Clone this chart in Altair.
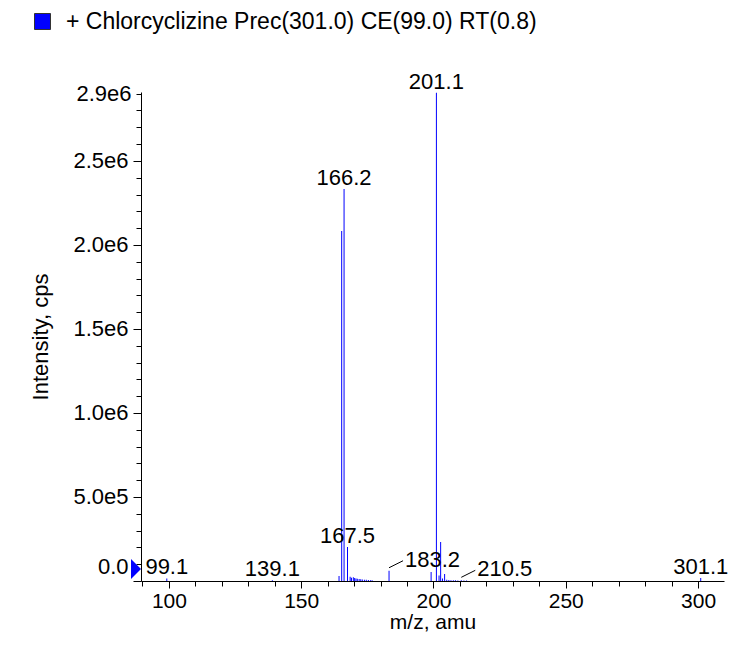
import altair as alt
import pandas as pd

# ---- data ----
series_name = "+ Chlorcyclizine Prec(301.0) CE(99.0) RT(0.8)"

peak_mz = [99.2, 139.1, 164.3, 165.3, 166.2, 167.5,
           168.5, 169.0, 169.7, 170.2, 170.7, 171.2, 171.9, 172.5, 173.1, 173.9, 174.6, 175.4, 176.2, 176.8,
           183.2, 199.1, 201.1, 202.1, 202.7, 203.4, 204.2,
           205.0, 205.8, 206.6, 207.5, 208.3, 209.2, 210.5, 211.5, 212.5, 301.0]
peak_intensity = [15000, 5000, 30000, 2083000, 2333000, 202000,
                  25000, 20000, 22000, 18000, 15000, 14000, 12000, 10000, 9000, 8000, 7000, 6000, 5000, 5000,
                  61000, 54000, 2905000, 32000, 232000, 15000, 42000,
                  8000, 6000, 5000, 4000, 4000, 3000, 4000, 3000, 3000, 18000]

top_label_text = ["99.1", "139.1", "166.2", "167.5", "201.1", "301.1"]
top_label_mz = [99.2, 139.1, 166.2, 167.5, 201.1, 301.0]

leader_label_text = ["183.2", "210.5"]
leader_label_mz = [183.2, 210.5]

x_tick_values = list(range(90, 311, 10))
y_tick_values = [i * 100000 for i in range(0, 30)]

X_DOMAIN = [89.45, 309.8]
Y_DOMAIN = [0, 2910000]

FONT = "Liberation Sans"
BLUE = "#0000ff"
FS = 22
FSX = 21

# ---- tables ----
lookup = dict(zip(peak_mz, peak_intensity))
peaks = pd.DataFrame({"mz": peak_mz, "intensity": peak_intensity, "series": series_name})
top_labels = pd.DataFrame({"mz": top_label_mz,
                           "intensity": [lookup[m] for m in top_label_mz],
                           "label": top_label_text})
leader_labels = pd.DataFrame({"mz": leader_label_mz,
                              "intensity": [lookup[m] for m in leader_label_mz],
                              "label": leader_label_text})
marker = pd.DataFrame({"mz": [X_DOMAIN[0]], "intensity": [0]})

x_scale = alt.Scale(domain=X_DOMAIN, nice=False, zero=False, padding=0)
y_scale = alt.Scale(domain=Y_DOMAIN, nice=False, padding=0)

x_axis = alt.Axis(
    title="m/z, amu",
    values=x_tick_values,
    labelExpr="datum.value % 50 == 0 ? datum.label : ''",
    tickSize={"condition": {"test": "datum.value % 50 == 0", "value": 7}, "value": 5},
    labelPadding=2,
    titlePadding=0,
    labelFontSize=FSX,
    titleFontSize=FSX,
    labelOverlap=False,
    labelFlush=False,
    grid=False,
)
y_axis = alt.Axis(
    title="Intensity, cps",
    values=y_tick_values,
    labelExpr="datum.value == 0 ? '0.0' : ((datum.value % 500000 == 0 || datum.value == 2900000) ? replace(format(datum.value, '.1e'), '+', '') : '')",
    tickSize={"condition": {"test": "datum.value % 500000 == 0", "value": 8}, "value": 5},
    labelOffset={"condition": {"test": "datum.value == 0", "value": -15}, "value": 0},
    labelPadding=5,
    titlePadding=20,
    labelOverlap=False,
    labelFlush=False,
    grid=False,
)

X = alt.X("mz:Q", scale=x_scale, axis=x_axis)
Y = alt.Y("intensity:Q", scale=y_scale, axis=y_axis, stack=None)

bars = alt.Chart(peaks).mark_bar(width=1, orient="vertical").encode(
    x=X,
    y=Y,
    color=alt.Color(
        "series:N",
        scale=alt.Scale(domain=[series_name], range=[BLUE]),
        legend=alt.Legend(
            title=None,
            orient="none",
            legendX=-110,
            legendY=-82,
            symbolType="square",
            symbolSize=256,
            symbolStrokeColor="#333333",
            symbolStrokeWidth=1,
            symbolFillColor=BLUE,
            labelFontSize=23,
            labelFont=FONT,
            labelColor="black",
            labelOffset=12,
            labelLimit=1000,
            padding=0,
        ),
    ),
)

tri = alt.Chart(marker).mark_point(
    shape="M -0.5 -1 L 0.5 0 L -0.5 1 Z", filled=True, color=BLUE, opacity=1,
    size=400, xOffset=-5, yOffset=-12,
).encode(x=X, y=Y)

top_text = alt.Chart(top_labels).mark_text(
    align="center", baseline="alphabetic", dy=-4, fontSize=FS, font=FONT, color="black"
).encode(x=X, y=Y, text="label:N")

leader_lines = alt.Chart(leader_labels).mark_rule(
    color="black", strokeWidth=1, yOffset=-3, x2Offset=14, y2Offset=-10
).encode(x=X, x2="mz:Q", y=Y, y2="intensity:Q")

leader_text = alt.Chart(leader_labels).mark_text(
    align="left", baseline="alphabetic", dx=16, dy=-4, fontSize=FS, font=FONT, color="black"
).encode(x=X, y=Y, text="label:N")

chart = alt.layer(bars, tri, top_text, leader_lines, leader_text).properties(
    width=583,
    height=489,
    padding={"left": 133, "top": 84, "right": 5, "bottom": 53},
    autosize=alt.AutoSizeParams(type="none"),
    background="white",
).configure_view(stroke=None).configure_axis(
    domainColor="black",
    tickColor="black",
    labelColor="black",
    titleColor="black",
    labelFont=FONT,
    titleFont=FONT,
    labelFontSize=FS,
    titleFontSize=FS,
    titleFontWeight="normal",
)

chart.save("out.html", embed_options={"renderer": "svg", "actions": False})
